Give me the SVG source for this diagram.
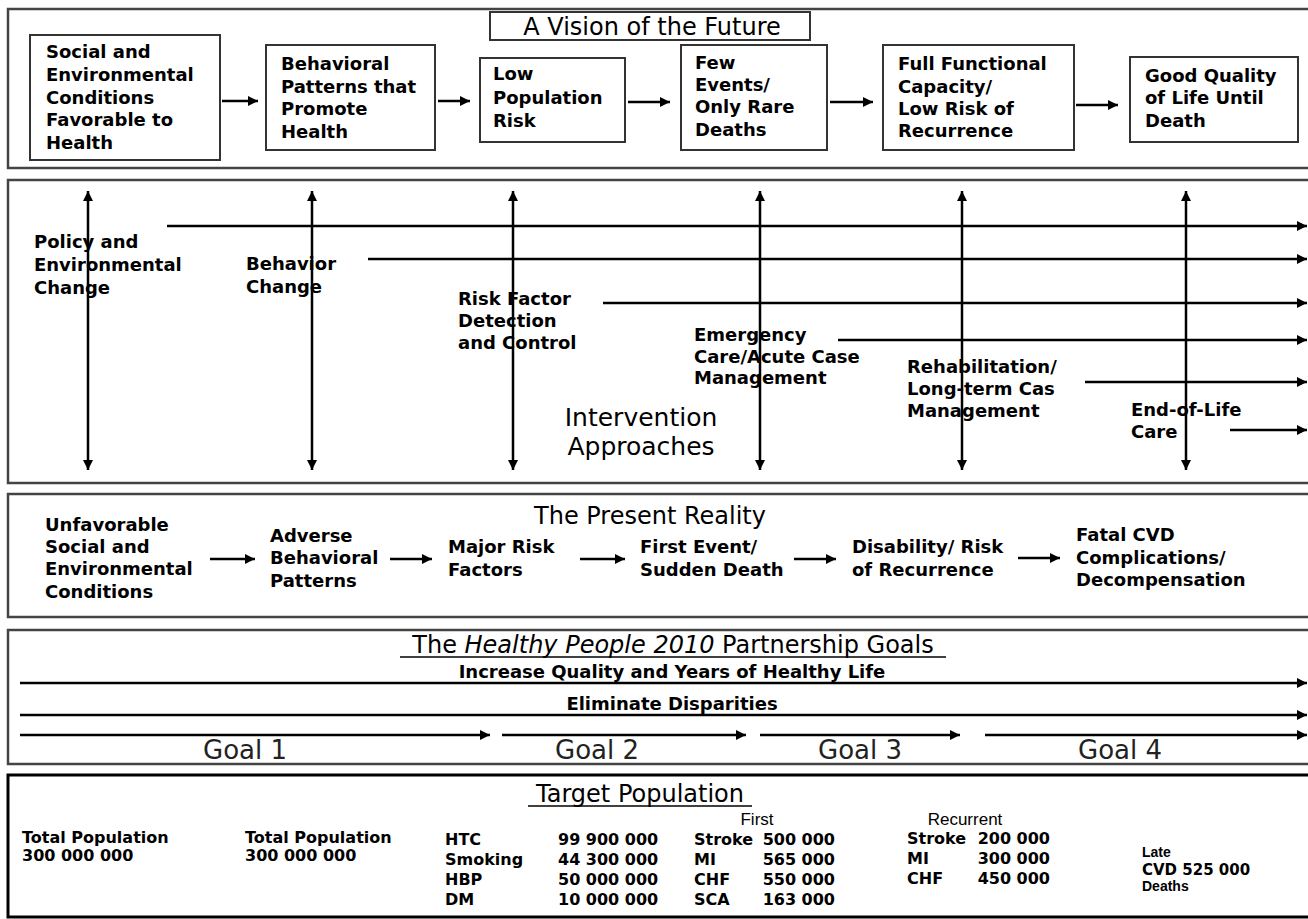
<svg xmlns="http://www.w3.org/2000/svg" width="1308" height="919" viewBox="0 0 1308 919">
<style>
.b{font-family:"DejaVu Sans",Verdana,sans-serif;font-weight:bold;font-size:18px;fill:#000}
.t{font-family:"DejaVu Sans",Verdana,sans-serif;font-size:24px;fill:#000}
.n{font-family:"DejaVu Sans",Verdana,sans-serif;font-weight:bold;font-size:16px;fill:#000}
.a{font-family:"Liberation Sans",Arial,sans-serif;font-size:17px;fill:#000}
.ab{font-family:"Liberation Sans",Arial,sans-serif;font-weight:bold;font-size:14px;fill:#000}
.g{font-family:"DejaVu Sans",Verdana,sans-serif;font-size:26px;fill:#222}
.band{fill:#fff;stroke:#444;stroke-width:2.5}
.box{fill:#fff;stroke:#333;stroke-width:2}
.ln{stroke:#000;stroke-width:2.5;fill:none}
.c{text-anchor:middle}
.ul{stroke:#000;stroke-width:1.5}
</style>
<defs>
<marker id="ah" markerUnits="userSpaceOnUse" markerWidth="11" markerHeight="11" refX="10" refY="5" orient="auto-start-reverse">
<path d="M0,0 L10,5 L0,10 z" fill="#000"/>
</marker>
</defs>
<rect width="1308" height="919" fill="#fff"/>

<g id="band-vision">
<rect class="band" x="8" y="9" width="1310" height="159"/>
</g>
<g id="title-vision">
<rect class="box" x="490" y="12" width="320" height="28"/>
<text class="t c" x="652" y="35">A Vision of the Future</text>
</g>
<g id="v1">
<rect class="box" x="30" y="35" width="190" height="125"/>
<text class="b" x="46" y="58">Social and</text>
<text class="b" x="46" y="81">Environmental</text>
<text class="b" x="46" y="104">Conditions</text>
<text class="b" x="46" y="126">Favorable to</text>
<text class="b" x="46" y="149">Health</text>
</g>
<g id="v2">
<rect class="box" x="266" y="45" width="169" height="105"/>
<text class="b" x="281" y="70">Behavioral</text>
<text class="b" x="281" y="93">Patterns that</text>
<text class="b" x="281" y="115">Promote</text>
<text class="b" x="281" y="138">Health</text>
</g>
<g id="v3">
<rect class="box" x="480" y="58" width="145" height="84"/>
<text class="b" x="493" y="80">Low</text>
<text class="b" x="493" y="104">Population</text>
<text class="b" x="493" y="127">Risk</text>
</g>
<g id="v4">
<rect class="box" x="681" y="45" width="146" height="105"/>
<text class="b" x="695" y="69">Few</text>
<text class="b" x="695" y="91">Events/</text>
<text class="b" x="695" y="113">Only Rare</text>
<text class="b" x="695" y="136">Deaths</text>
</g>
<g id="v5">
<rect class="box" x="883" y="45" width="191" height="105"/>
<text class="b" x="898" y="70">Full Functional</text>
<text class="b" x="898" y="93">Capacity/</text>
<text class="b" x="898" y="115">Low Risk of</text>
<text class="b" x="898" y="137">Recurrence</text>
</g>
<g id="v6">
<rect class="box" x="1130" y="57" width="168" height="85"/>
<text class="b" x="1145" y="82">Good Quality</text>
<text class="b" x="1145" y="104">of Life Until</text>
<text class="b" x="1145" y="127">Death</text>
</g>

<g id="band-intervention">
<rect class="band" x="8" y="180" width="1310" height="303"/>
<text class="t c" x="641" y="426" style="font-size:25px">Intervention</text>
<text class="t c" x="641" y="455" style="font-size:25px">Approaches</text>
</g>
<g id="i1">
<text class="b" x="34" y="248">Policy and</text>
<text class="b" x="34" y="271">Environmental</text>
<text class="b" x="34" y="294">Change</text>
</g>
<g id="i2">
<text class="b" x="246" y="270">Behavior</text>
<text class="b" x="246" y="293">Change</text>
</g>
<g id="i3">
<text class="b" x="458" y="305">Risk Factor</text>
<text class="b" x="458" y="327">Detection</text>
<text class="b" x="458" y="349">and Control</text>
</g>
<g id="i4">
<text class="b" x="694" y="341">Emergency</text>
<text class="b" x="694" y="363">Care/Acute Case</text>
<text class="b" x="694" y="384">Management</text>
</g>
<g id="i5">
<text class="b" x="907" y="373">Rehabilitation/</text>
<text class="b" x="907" y="395">Long-term Cas</text>
<text class="b" x="907" y="417">Management</text>
</g>
<g id="i6">
<text class="b" x="1131" y="416">End-of-Life</text>
<text class="b" x="1131" y="438">Care</text>
</g>

<g id="band-present">
<rect class="band" x="8" y="494" width="1310" height="123"/>
<text class="t c" x="650" y="524">The Present Reality</text>
</g>
<g id="p1">
<text class="b" x="45" y="531">Unfavorable</text>
<text class="b" x="45" y="553">Social and</text>
<text class="b" x="45" y="575">Environmental</text>
<text class="b" x="45" y="598">Conditions</text>
</g>
<g id="p2">
<text class="b" x="270" y="542">Adverse</text>
<text class="b" x="270" y="564">Behavioral</text>
<text class="b" x="270" y="587">Patterns</text>
</g>
<g id="p3">
<text class="b" x="448" y="553">Major Risk</text>
<text class="b" x="448" y="576">Factors</text>
</g>
<g id="p4">
<text class="b" x="640" y="553">First Event/</text>
<text class="b" x="640" y="576">Sudden Death</text>
</g>
<g id="p5">
<text class="b" x="852" y="553">Disability/ Risk</text>
<text class="b" x="852" y="576">of Recurrence</text>
</g>
<g id="p6">
<text class="b" x="1076" y="541">Fatal CVD</text>
<text class="b" x="1076" y="564">Complications/</text>
<text class="b" x="1076" y="586">Decompensation</text>
</g>

<g id="band-goals">
<rect class="band" x="8" y="630" width="1310" height="134"/>
<text class="t c" x="673" y="653">The <tspan font-style="italic">Healthy People 2010</tspan> Partnership Goals</text>
<line class="ul" x1="400" y1="657" x2="946" y2="657"/>
<text class="b c" x="672" y="678">Increase Quality and Years of Healthy Life</text>
<text class="b c" x="672" y="710">Eliminate Disparities</text>
<text class="g c" x="245" y="759">Goal 1</text>
<text class="g c" x="597" y="759">Goal 2</text>
<text class="g c" x="860" y="759">Goal 3</text>
<text class="g c" x="1120" y="759">Goal 4</text>
</g>

<g id="band-target">
<rect x="8" y="775" width="1310" height="142" fill="#fff" stroke="#000" stroke-width="3"/>
<text class="t c" x="640" y="802">Target Population</text>
<line class="ul" x1="528" y1="806" x2="752" y2="806"/>
<text class="n" x="22" y="843">Total Population</text>
<text class="n" x="22" y="861">300 000 000</text>
<text class="n" x="245" y="843">Total Population</text>
<text class="n" x="245" y="861">300 000 000</text>
<text class="n" x="445" y="845">HTC</text>
<text class="n" x="445" y="865">Smoking</text>
<text class="n" x="445" y="885">HBP</text>
<text class="n" x="445" y="905">DM</text>
<text class="n" x="558" y="845">99 900 000</text>
<text class="n" x="558" y="865">44 300 000</text>
<text class="n" x="558" y="885">50 000 000</text>
<text class="n" x="558" y="905">10 000 000</text>
<text class="a c" x="757" y="825">First</text>
<text class="n" x="694" y="845">Stroke</text>
<text class="n" x="694" y="865">MI</text>
<text class="n" x="694" y="885">CHF</text>
<text class="n" x="694" y="905">SCA</text>
<text class="n" x="835" y="845" text-anchor="end">500 000</text>
<text class="n" x="835" y="865" text-anchor="end">565 000</text>
<text class="n" x="835" y="885" text-anchor="end">550 000</text>
<text class="n" x="835" y="905" text-anchor="end">163 000</text>
<text class="a c" x="965" y="825">Recurrent</text>
<text class="n" x="907" y="844">Stroke</text>
<text class="n" x="907" y="864">MI</text>
<text class="n" x="907" y="884">CHF</text>
<text class="n" x="1050" y="844" text-anchor="end">200 000</text>
<text class="n" x="1050" y="864" text-anchor="end">300 000</text>
<text class="n" x="1050" y="884" text-anchor="end">450 000</text>
<text class="ab" x="1142" y="857">Late</text>
<text class="n" x="1142" y="875" style="font-size:15px">CVD  525 000</text>
<text class="ab" x="1142" y="891">Deaths</text>
</g>

<g id="connectors">
<line class="ln" x1="222" y1="101" x2="258" y2="101" marker-end="url(#ah)"/>
<line class="ln" x1="438" y1="101" x2="470" y2="101" marker-end="url(#ah)"/>
<line class="ln" x1="628" y1="102" x2="670" y2="102" marker-end="url(#ah)"/>
<line class="ln" x1="830" y1="102" x2="873" y2="102" marker-end="url(#ah)"/>
<line class="ln" x1="1076" y1="105" x2="1118" y2="105" marker-end="url(#ah)"/>

<line class="ln" x1="88" y1="191" x2="88" y2="470" marker-start="url(#ah)" marker-end="url(#ah)"/>
<line class="ln" x1="312" y1="191" x2="312" y2="470" marker-start="url(#ah)" marker-end="url(#ah)"/>
<line class="ln" x1="513" y1="191" x2="513" y2="470" marker-start="url(#ah)" marker-end="url(#ah)"/>
<line class="ln" x1="760" y1="191" x2="760" y2="470" marker-start="url(#ah)" marker-end="url(#ah)"/>
<line class="ln" x1="962" y1="191" x2="962" y2="470" marker-start="url(#ah)" marker-end="url(#ah)"/>
<line class="ln" x1="1186" y1="191" x2="1186" y2="470" marker-start="url(#ah)" marker-end="url(#ah)"/>

<line class="ln" x1="167" y1="226" x2="1307" y2="226" marker-end="url(#ah)"/>
<line class="ln" x1="368" y1="259" x2="1307" y2="259" marker-end="url(#ah)"/>
<line class="ln" x1="603" y1="303" x2="1307" y2="303" marker-end="url(#ah)"/>
<line class="ln" x1="838" y1="340" x2="1307" y2="340" marker-end="url(#ah)"/>
<line class="ln" x1="1085" y1="382" x2="1307" y2="382" marker-end="url(#ah)"/>
<line class="ln" x1="1230" y1="430" x2="1307" y2="430" marker-end="url(#ah)"/>

<line class="ln" x1="210" y1="559" x2="255" y2="559" marker-end="url(#ah)"/>
<line class="ln" x1="390" y1="559" x2="432" y2="559" marker-end="url(#ah)"/>
<line class="ln" x1="580" y1="559" x2="625" y2="559" marker-end="url(#ah)"/>
<line class="ln" x1="794" y1="559" x2="836" y2="559" marker-end="url(#ah)"/>
<line class="ln" x1="1018" y1="558" x2="1060" y2="558" marker-end="url(#ah)"/>

<line class="ln" x1="20" y1="683" x2="1307" y2="683" marker-end="url(#ah)"/>
<line class="ln" x1="20" y1="715" x2="1307" y2="715" marker-end="url(#ah)"/>
<line class="ln" x1="20" y1="735" x2="490" y2="735" marker-end="url(#ah)"/>
<line class="ln" x1="502" y1="735" x2="746" y2="735" marker-end="url(#ah)"/>
<line class="ln" x1="760" y1="735" x2="960" y2="735" marker-end="url(#ah)"/>
<line class="ln" x1="985" y1="735" x2="1307" y2="735" marker-end="url(#ah)"/>
</g>
</svg>
